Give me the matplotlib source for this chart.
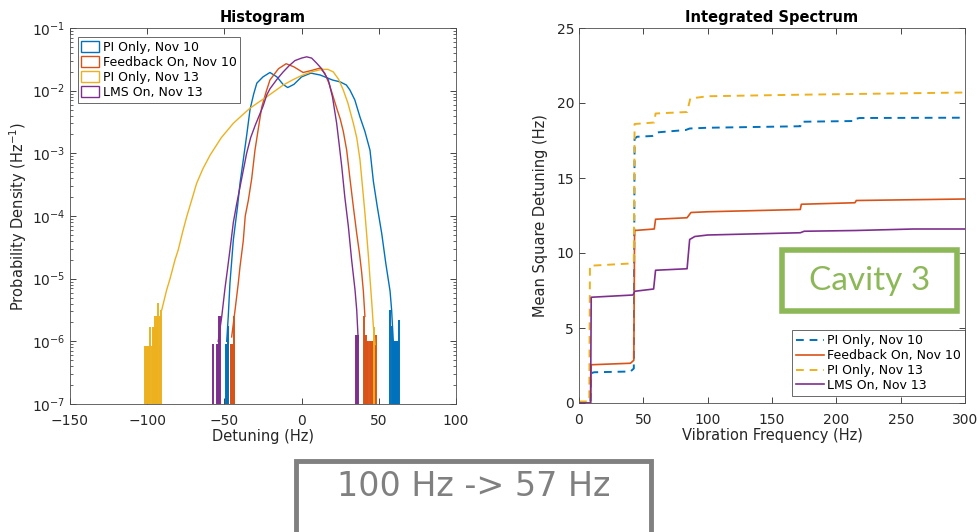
import numpy as np
import matplotlib
matplotlib.use("Agg")
import matplotlib.pyplot as plt
from matplotlib.patches import Patch, Rectangle

plt.rcParams['font.family'] = ['DejaVu Sans']

# ---------------- data ----------------
labels = ["PI Only, Nov 10", "Feedback On, Nov 10", "PI Only, Nov 13", "LMS On, Nov 13"]
colors = ["#0072BD", "#D95319", "#EDB120", "#7E2F8E"]

# Histogram (detuning Hz, log10 probability density)
pi10_x = [-48.5, -47.5, -46.4, -44.2, -41.5, -39.9, -37.8, -35.5, -33.4, -31, -29, -25, -20.5, -16, -12, -9, -5, 0, 6, 12, 20, 25, 29, 31.3, 34.5, 37.8, 41, 44.3, 46.5, 49, 51.9, 54.5, 57.3, 58.3, 59.4]
pi10_y = [-6.0, -5.6, -5.07, -4.38, -3.85, -3.48, -3.11, -2.7, -2.3, -2.05, -1.88, -1.78, -1.71, -1.78, -1.9, -1.95, -1.9, -1.78, -1.72, -1.75, -1.83, -1.86, -1.91, -1.99, -2.15, -2.42, -2.65, -2.95, -3.45, -3.85, -4.28, -4.75, -5.2, -5.5, -6.0]

fb10_x = [-45.3, -43.1, -41, -39.9, -37.8, -36.5, -34.5, -32.3, -30.2, -28, -25.8, -23, -20.5, -15, -10, -5, 1, 6, 11.9, 15, 18, 20.5, 23, 25, 27, 29.2, 31.3, 33.5, 35.7, 37.5, 38.9, 40, 41]
fb10_y = [-5.93, -5.5, -5.07, -4.81, -4.4, -4.0, -3.75, -3.4, -2.95, -2.6, -2.26, -2.02, -1.83, -1.65, -1.57, -1.62, -1.71, -1.68, -1.64, -1.72, -1.9, -2.1, -2.3, -2.45, -2.65, -2.95, -3.4, -3.85, -4.28, -4.6, -4.9, -5.2, -5.6]

pi13_x = [-90.6, -87.4, -85.2, -82, -79.9, -77, -74.4, -71, -68, -64, -59.3, -52, -44.2, -38, -33.4, -27, -22.7, -17, -11.9, -6, -1, 4, 8, 13, 17, 20.5, 24, 27, 30, 33.5, 35.7, 37.8, 39.5, 41, 42.1, 43.3, 44.3, 45.5, 46.5, 47.6]
pi13_y = [-5.5, -5.18, -5.0, -4.7, -4.54, -4.25, -4.01, -3.73, -3.48, -3.25, -3.03, -2.75, -2.52, -2.38, -2.28, -2.17, -2.1, -2.0, -1.91, -1.83, -1.77, -1.72, -1.69, -1.66, -1.66, -1.7, -1.82, -1.99, -2.2, -2.52, -2.75, -3.1, -3.55, -3.95, -4.28, -4.65, -5.0, -5.4, -5.77, -6.05]

lms13_x = [-54, -51.7, -49.6, -48, -46.4, -44.2, -42, -40, -38, -35.6, -33, -30, -27.5, -25, -22.6, -20.5, -16, -11.9, -8, -4.3, 0, 3.3, 6.5, 9.7, 13, 17.3, 20, 21.6, 22.7, 24.3, 26, 28, 30.3, 32.4, 34.6, 35.7, 36.7]
lms13_y = [-6.0, -5.6, -5.15, -4.85, -4.54, -4.1, -3.8, -3.55, -3.3, -3.0, -2.75, -2.55, -2.4, -2.25, -2.07, -1.97, -1.82, -1.7, -1.6, -1.52, -1.48, -1.46, -1.48, -1.56, -1.65, -1.83, -2.1, -2.35, -2.52, -2.85, -3.21, -3.7, -4.17, -4.7, -5.18, -5.5, -6.0]

# sparse tail bins (detuning Hz, log10 density)
pi10_tx = [-49.0, -48.6, -48.2, -47.8, 57.3, 58.4, 59.0, 59.5, 60.0, 60.5, 61.0, 61.5, 62.0, 62.5, 63.3]
pi10_ty = [-6.05, -6.05, -6.05, -5.75, -5.5, -5.75, -6.0, -6.0, -6.0, -6.0, -6.0, -6.0, -6.0, -6.0, -5.66]
fb10_tx = [-46.0, -45.6, -45.2, -44.8, -44.4, -44.0, -43.6, 40.5, 41.0, 41.5, 42.3, 43.2, 44.0, 44.8, 45.6, 46.4, 47.3, 48.0]
fb10_ty = [-6.05, -6.05, -6.05, -6.05, -6.05, -5.9, -5.6, -5.6, -5.9, -5.9, -6.0, -6.0, -6.0, -6.0, -6.0, -6.0, -6.0, -5.9]
pi13_tx = [-101.5, -101.0, -100.2, -99.5, -98.8, -98.0, -97.2, -96.5, -95.8, -95.0, -94.3, -93.5, -92.8, -92.0, -91.4, -90.8, 47.1]
pi13_ty = [-6.08, -6.08, -6.08, -6.08, -6.08, -5.77, -6.08, -5.77, -5.77, -5.6, -5.77, -5.6, -5.39, -5.6, -6.08, -5.5, -5.77]
lms13_tx = [-57.2, -54.8, -54.4, -54.0, -53.6, -53.2, -52.8, 35.5, 36.0, 36.5]
lms13_ty = [-6.05, -6.05, -6.05, -6.05, -6.05, -5.6, -5.6, -5.9, -5.9, -5.9]

# Integrated spectrum (Hz, mean square detuning Hz)
pi10_f = [0, 9, 9.5, 12, 40, 42.6, 43.2, 45, 57, 60, 62, 83, 86, 100, 172, 172.8, 214.5, 215.5, 218, 300]
pi10_v = [0, 0, 2.0, 2.05, 2.1, 2.3, 17.6, 17.75, 17.8, 18.0, 18.05, 18.2, 18.3, 18.35, 18.45, 18.75, 18.8, 18.95, 19.0, 19.02]
fb10_f = [0, 9, 9.5, 40, 42.6, 43.2, 58.5, 59.5, 84, 87, 100, 172, 172.8, 214.5, 215.5, 300]
fb10_v = [0, 0, 2.55, 2.65, 2.85, 11.5, 11.6, 12.25, 12.35, 12.7, 12.75, 12.9, 13.25, 13.35, 13.5, 13.6]
pi13_f = [0, 8, 8.5, 40, 42.6, 43.2, 58.5, 59.5, 84, 86.5, 100, 170, 300]
pi13_v = [0.1, 0.1, 9.15, 9.3, 9.4, 18.6, 18.7, 19.3, 19.4, 20.3, 20.45, 20.55, 20.7]
lms13_f = [0, 9, 9.5, 42, 43, 43.5, 58, 59.5, 84, 86, 90, 100, 172, 175, 215, 260, 300]
lms13_v = [0, 0, 7.05, 7.2, 7.4, 7.45, 7.6, 8.85, 8.95, 10.9, 11.1, 11.2, 11.35, 11.45, 11.5, 11.6, 11.6]

# ---------------- figure ----------------
fig = plt.figure(figsize=(9.79, 5.32), dpi=100)
axL = fig.add_axes([70/979, 1-404/532, 386/979, 376/532])
axR = fig.add_axes([579/979, 1-403/532, 386/979, 375/532])

tick_c = '#262626'
for ax in (axL, axR):
    for s in ax.spines.values():
        s.set_color('#4d4d4d')
        s.set_linewidth(0.6)
    ax.tick_params(direction='in', top=True, right=True, colors=tick_c,
                   labelsize=10, length=4, width=0.6)
    ax.tick_params(axis='x', pad=7)
    ax.tick_params(which='minor', direction='in', top=True, right=True,
                   length=2, width=0.5, colors=tick_c)

hist_x = [pi10_x, fb10_x, pi13_x, lms13_x]
hist_y = [pi10_y, fb10_y, pi13_y, lms13_y]
tail_x = [pi10_tx, fb10_tx, pi13_tx, lms13_tx]
tail_y = [pi10_ty, fb10_ty, pi13_ty, lms13_ty]
for hx, hy, tx, ty, c in zip(hist_x, hist_y, tail_x, tail_y, colors):
    axL.plot(hx, 10**np.array(hy), color=c, lw=1.0)
    axL.vlines(tx, 1e-8, 10**np.array(ty), color=c, lw=1.4)

axL.set_yscale('log')
axL.set_xlim(-150, 100)
axL.set_ylim(1e-7, 1e-1)
axL.set_xticks([-150, -100, -50, 0, 50, 100])
axL.set_xlabel('Detuning (Hz)', fontsize=10.5, color=tick_c, labelpad=1)
axL.set_ylabel('Probability Density (Hz$^{-1}$)', fontsize=10.5, color=tick_c, labelpad=2)
axL.set_title('Histogram', fontsize=10.5, fontweight='bold', pad=4)
handlesL = [Patch(facecolor='none', edgecolor=c, lw=1.0, label=l) for c, l in zip(colors, labels)]
legL = axL.legend(handles=handlesL, loc='upper left', bbox_to_anchor=(0.02, 0.975),
                  fontsize=9, frameon=True, fancybox=False, edgecolor='#262626',
                  handlelength=1.4, handleheight=1.0, handletextpad=0.3,
                  labelspacing=0.15, borderpad=0.3, borderaxespad=0.0)
legL.get_frame().set_linewidth(0.6)

styles = ['--', '-', '--', '-']
spec_f = [pi10_f, fb10_f, pi13_f, lms13_f]
spec_v = [pi10_v, fb10_v, pi13_v, lms13_v]
for f, v, c, ls, l in zip(spec_f, spec_v, colors, styles, labels):
    if ls == '--':
        axR.plot(f, v, color=c, ls='--', lw=1.4, dashes=(4, 3), label=l)
    else:
        axR.plot(f, v, color=c, ls='-', lw=1.2, label=l)
axR.set_xlim(0, 300)
axR.set_ylim(0, 25)
axR.set_xticks(range(0, 301, 50))
axR.set_yticks(range(0, 26, 5))
axR.set_xlabel('Vibration Frequency (Hz)', fontsize=10.5, color=tick_c, labelpad=1)
axR.set_ylabel('Mean Square Detuning (Hz)', fontsize=10.5, color=tick_c, labelpad=6)
axR.set_title('Integrated Spectrum', fontsize=10.5, fontweight='bold', pad=4)
legR = axR.legend(loc='lower right', bbox_to_anchor=(1.0, 0.02), fontsize=9,
                  frameon=True, fancybox=False, edgecolor='#262626',
                  handlelength=2.2, handletextpad=0.3, labelspacing=0.15,
                  borderpad=0.3, borderaxespad=0.0)
legR.get_frame().set_linewidth(0.6)

# annotation boxes
green = '#8DB858'
fig.patches.append(Rectangle((782/979, 1-311/532), 175/979, 61/532, transform=fig.transFigure,
                             facecolor='white', edgecolor=green, lw=4.0, zorder=5))
fig.text((782+175/2)/979, 1-281/532, 'Cavity 3', color=green, fontsize=24,
         family=['Lato', 'DejaVu Sans'], ha='center', va='center', zorder=6)

grey = '#808080'
fig.patches.append(Rectangle((296/979, -0.05), 355/979, (532-461)/532 + 0.05, transform=fig.transFigure,
                             facecolor='white', edgecolor=grey, lw=3.5, zorder=5, clip_on=False))
fig.text((296+355/2)/979, 1-487/532, '100 Hz -> 57 Hz', color=grey, fontsize=24,
         family=['DejaVu Sans'], ha='center', va='center', zorder=6)

fig.savefig('out.png', dpi=100, facecolor='white')
